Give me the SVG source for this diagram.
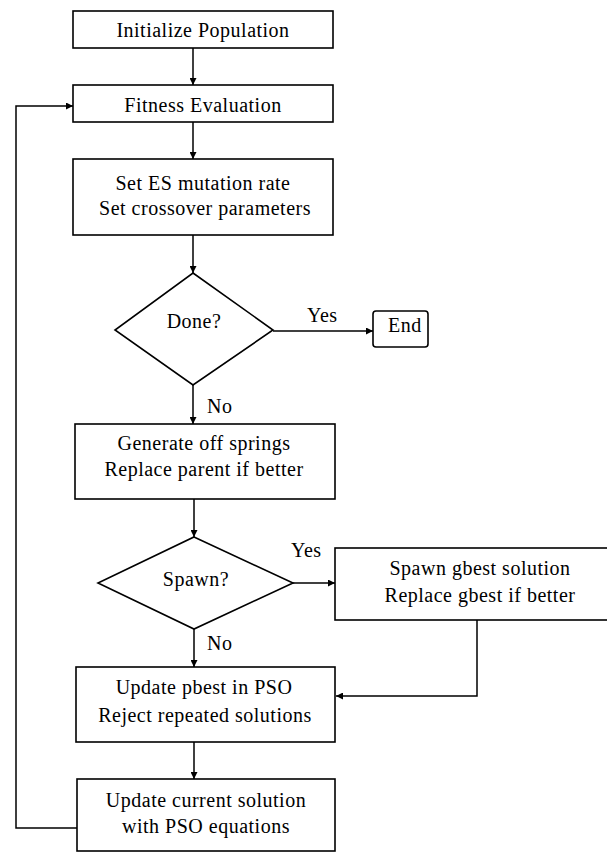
<svg xmlns="http://www.w3.org/2000/svg" width="607" height="853" viewBox="0 0 607 853">
<defs>
<style>
.box{fill:#fff;stroke:#000;stroke-width:1.6}
.t{font-family:"Liberation Serif","Times New Roman",serif;font-size:20px;letter-spacing:0.5px;fill:#000;text-anchor:middle}
.l{font-family:"Liberation Serif","Times New Roman",serif;font-size:20px;letter-spacing:0.5px;fill:#000}
.c{fill:none;stroke:#000;stroke-width:1.5}
</style>
<marker id="ah" viewBox="0 0 10 10" refX="10" refY="5" markerWidth="7" markerHeight="7" markerUnits="userSpaceOnUse" orient="auto">
<path d="M0,0 L10,5 L0,10 z" fill="#000"/>
</marker>
</defs>
<rect width="607" height="853" fill="#fff"/>
<g id="connectors">
<path class="c" d="M193,48 V85" marker-end="url(#ah)"/>
<path class="c" d="M193,122 V159" marker-end="url(#ah)"/>
<path class="c" d="M193,235 V273" marker-end="url(#ah)"/>
<path class="c" d="M273,331 H373" marker-end="url(#ah)"/>
<path class="c" d="M193,385 V424" marker-end="url(#ah)"/>
<path class="c" d="M194,499 V537" marker-end="url(#ah)"/>
<path class="c" d="M293,583 H335" marker-end="url(#ah)"/>
<path class="c" d="M194,629 V667" marker-end="url(#ah)"/>
<path class="c" d="M477,620 V696 H336" marker-end="url(#ah)"/>
<path class="c" d="M194,742 V779" marker-end="url(#ah)"/>
<path class="c" d="M77,828 H16 V106 H73" marker-end="url(#ah)"/>
<text class="l" x="307" y="322">Yes</text>
<text class="l" x="207" y="413">No</text>
<text class="l" x="291" y="557">Yes</text>
<text class="l" x="207" y="650">No</text>
</g>
<g id="init">
<rect class="box" x="73" y="11" width="260" height="37"/>
<text class="t" x="203" y="37">Initialize Population</text>
</g>
<g id="fitness">
<rect class="box" x="73" y="85" width="260" height="37"/>
<text class="t" x="203" y="112">Fitness Evaluation</text>
</g>
<g id="setes">
<rect class="box" x="73" y="159" width="260" height="76"/>
<text class="t" x="203" y="190">Set ES mutation rate</text>
<text class="t" x="205" y="215">Set crossover parameters</text>
</g>
<g id="done">
<polygon class="box" points="193,273 273,330 193,385 115,330"/>
<text class="t" x="194" y="328">Done?</text>
</g>
<g id="end">
<rect class="box" x="373" y="311" width="55" height="36" rx="3"/>
<text class="l" x="388" y="332">End</text>
</g>
<g id="generate">
<rect class="box" x="75" y="424" width="260" height="75"/>
<text class="t" x="204" y="450">Generate off springs</text>
<text class="t" x="204" y="476">Replace parent if better</text>
</g>
<g id="spawn">
<polygon class="box" points="194,537 293,583 194,629 98,583"/>
<text class="t" x="196" y="586">Spawn?</text>
</g>
<g id="gbest">
<rect class="box" x="335" y="548" width="280" height="72"/>
<text class="t" x="480" y="575">Spawn gbest solution</text>
<text class="t" x="480" y="602">Replace gbest if better</text>
</g>
<g id="pbest">
<rect class="box" x="76" y="667" width="259" height="75"/>
<text class="t" x="204" y="694">Update pbest in PSO</text>
<text class="t" x="205" y="722">Reject repeated solutions</text>
</g>
<g id="current">
<rect class="box" x="77" y="779" width="258" height="72"/>
<text class="t" x="206" y="807">Update current solution</text>
<text class="t" x="206" y="833">with PSO equations</text>
</g>
</svg>
